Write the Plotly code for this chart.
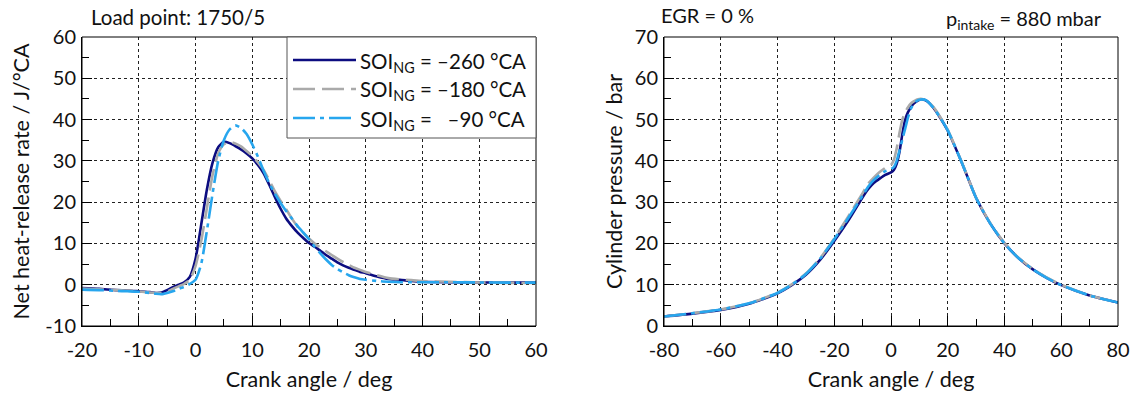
import plotly.graph_objects as go

# ---------------- data ----------------
cad_hrr = [-20, -17, -14, -12, -10, -8, -7, -6, -5, -4, -3, -2, -1, 0, 1, 2, 3, 4, 5, 6, 7, 8, 9, 10,
           11, 12, 13, 14, 15, 16, 17, 18, 19, 20, 21, 22, 23, 24, 25, 26, 27, 28, 29, 30,
           32, 34, 36, 38, 40, 45, 50, 55, 60]
hrr_260 = [-0.8, -1.0, -1.3, -1.4, -1.6, -1.8, -2.0, -1.9, -1.3, -0.6, 0.0, 0.6, 1.9, 6.2, 14.5, 23.0, 29.5, 33.3, 34.6, 34.3, 33.6, 32.8, 31.8, 30.6,
           29.0, 27.0, 24.2, 21.2, 18.4, 16.0, 14.2, 12.6, 11.3, 10.1, 9.2, 8.2, 7.2, 6.3, 5.4, 4.7, 4.1, 3.6, 3.1, 2.8,
           2.0, 1.4, 1.2, 0.9, 0.7, 0.6, 0.55, 0.5, 0.5]
hrr_180 = [-0.9, -1.1, -1.3, -1.4, -1.6, -1.9, -2.0, -2.0, -1.7, -1.0, -0.4, 0.2, 1.2, 4.5, 10.5, 18.5, 26.5, 31.8, 34.0, 34.6, 34.2, 33.5, 32.4, 31.2,
           29.6, 27.8, 25.3, 22.6, 20.3, 18.2, 16.0, 14.0, 12.6, 11.2, 10.0, 9.0, 8.1, 7.2, 6.3, 5.5, 4.8, 4.1, 3.6, 3.1,
           2.3, 1.6, 1.3, 1.1, 0.9, 0.7, 0.55, 0.45, 0.4]
hrr_90 = [-1.2, -1.3, -1.5, -1.6, -1.7, -2.0, -2.2, -2.3, -2.0, -1.6, -1.0, -0.5, 0.2, 1.2, 5.0, 13.0, 22.0, 30.0, 35.0, 37.6, 38.6, 38.0, 36.5, 34.0,
          31.0, 27.6, 24.6, 22.0, 19.8, 17.8, 16.0, 14.2, 12.6, 11.0, 9.2, 7.6, 6.1, 4.8, 3.8, 3.0, 2.3, 1.8, 1.4, 1.2,
          0.9, 0.7, 0.6, 0.6, 0.6, 0.6, 0.55, 0.5, 0.5]

cad_p = [-80, -70, -60, -50, -40, -35, -30, -25, -20, -15, -10, -8, -6, -4, -2, 0, 1, 2, 3, 4, 5, 6, 7, 8, 9, 10,
         11, 12, 13, 15, 17, 20, 25, 30, 35, 40, 45, 50, 55, 60, 70, 80]
p_260 = [2.3, 3.0, 3.9, 5.4, 7.9, 9.9, 12.4, 16.0, 20.6, 25.6, 31.2, 33.2, 34.7, 35.7, 36.6, 37.2, 37.8, 39.3, 42.2, 46.5, 50.0, 51.8, 53.0, 53.9, 54.4, 54.8,
         54.9, 54.7, 54.3, 52.8, 50.8, 47.3, 39.5, 31.0, 24.8, 20.0, 16.4, 13.7, 11.6, 9.9, 7.4, 5.7]
p_180 = [2.3, 3.1, 4.0, 5.5, 8.1, 10.1, 12.7, 16.4, 21.2, 26.6, 32.2, 34.5, 36.0, 37.3, 38.3, 39.0, 40.2, 43.0, 46.8, 50.0, 51.8, 53.0, 53.9, 54.4, 54.8, 55.0,
         55.0, 54.8, 54.4, 53.0, 51.0, 47.5, 39.6, 31.1, 24.9, 20.1, 16.5, 13.8, 11.7, 10.0, 7.4, 5.7]
p_90 = [2.3, 3.1, 4.0, 5.5, 8.0, 10.0, 12.6, 16.3, 21.0, 26.2, 31.6, 33.8, 35.4, 36.6, 37.5, 38.0, 38.5, 40.0, 42.5, 45.2, 47.8, 50.5, 52.6, 53.8, 54.5, 54.8,
        54.9, 54.8, 54.3, 52.8, 50.8, 47.4, 39.5, 31.0, 24.8, 20.0, 16.4, 13.7, 11.6, 9.9, 7.4, 5.7]

series_labels = ["SOI<sub>NG</sub> = \u2013260 \u00b0CA",
                 "SOI<sub>NG</sub> = \u2013180 \u00b0CA",
                 "SOI<sub>NG</sub> = \u00a0\u00a0\u201390 \u00b0CA"]

# tick labels (hyphen minus as in the reference)
x1_ticks = [-20, -10, 0, 10, 20, 30, 40, 50, 60]
x1_labels = ["-20", "-10", "0", "10", "20", "30", "40", "50", "60"]
y1_ticks = [-10, 0, 10, 20, 30, 40, 50, 60]
y1_labels = ["-10", "0", "10", "20", "30", "40", "50", "60"]
x2_ticks = [-80, -60, -40, -20, 0, 20, 40, 60, 80]
x2_labels = ["-80", "-60", "-40", "-20", "0", "20", "40", "60", "80"]
y2_ticks = [0, 10, 20, 30, 40, 50, 60, 70]
y2_labels = ["0", "10", "20", "30", "40", "50", "60", "70"]

# ---------------- styles ----------------
W, H = 1137, 401
FONT = "Lato"
TXT = "#111111"
NAVY = "#0c0c80"
GRAY = "#aaaaaa"
BLUE = "#27a6ee"
TICK_SIZE = 20
TITLE_SIZE = 21.5
styles = [dict(color=NAVY, width=2.6, dash="solid"),
          dict(color=GRAY, width=2.6, dash="22px,7px"),
          dict(color=BLUE, width=2.6, dash="22px,5px,4px,5px")]


def px(x):
    return x / W


def py(y):
    return 1 - y / H


fig = go.Figure()
for ys, st, name in zip([hrr_260, hrr_180, hrr_90], styles, series_labels):
    fig.add_trace(go.Scatter(x=cad_hrr, y=ys, mode="lines", line=dict(shape="spline", smoothing=0.6, **st),
                             name=name, showlegend=False, xaxis="x", yaxis="y"))
for ys, st, name in zip([p_260, p_180, p_90], styles, series_labels):
    fig.add_trace(go.Scatter(x=cad_p, y=ys, mode="lines", line=dict(shape="spline", smoothing=0.6, **st),
                             name=name, showlegend=False, xaxis="x2", yaxis="y2"))

ydom = [py(326), py(37)]
common = dict(showline=True, linecolor="#000", linewidth=1, ticks="inside", ticklen=10, tickcolor="#000",
              showgrid=True, gridcolor="#222", gridwidth=1, griddash="3px,3px", zeroline=False,
              tickfont=dict(family=FONT, size=TICK_SIZE, color=TXT), automargin=False, tickmode="array")


def minor(d):
    return dict(dtick=d, ticks="inside", ticklen=7, tickcolor="#000", showgrid=False)


fig.update_layout(
    width=W, height=H, margin=dict(l=0, r=0, t=0, b=0),
    paper_bgcolor="white", plot_bgcolor="white",
    font=dict(family=FONT, color=TXT, size=18),
    xaxis=dict(domain=[px(82), px(536)], range=[-20, 60], tickvals=x1_ticks, ticktext=x1_labels, anchor="y",
               minor=minor(5), ticklabelstandoff=6,
               title=dict(text="Crank angle / deg", font=dict(family=FONT, size=TITLE_SIZE, color=TXT), standoff=11),
               **common),
    yaxis=dict(domain=ydom, range=[-10, 60], tickvals=y1_ticks, ticktext=y1_labels, anchor="x",
               minor=minor(5), ticklabelstandoff=1,
               title=dict(text="Net heat-release rate / J/\u00b0CA", font=dict(family=FONT, size=TITLE_SIZE, color=TXT), standoff=9),
               **common),
    xaxis2=dict(domain=[px(664), px(1118)], range=[-80, 80], tickvals=x2_ticks, ticktext=x2_labels, anchor="y2",
                minor=minor(10), ticklabelstandoff=6,
                title=dict(text="Crank angle / deg", font=dict(family=FONT, size=TITLE_SIZE, color=TXT), standoff=11),
                **common),
    yaxis2=dict(domain=ydom, range=[0, 70], tickvals=y2_ticks, ticktext=y2_labels, anchor="x2",
                minor=minor(5), ticklabelstandoff=1,
                title=dict(text="Cylinder pressure / bar", font=dict(family=FONT, size=TITLE_SIZE, color=TXT), standoff=6),
                **common),
)

# plot frames (top / right borders)
for xr, yr in [("x domain", "y domain"), ("x2 domain", "y2 domain")]:
    fig.add_shape(type="rect", xref=xr, yref=yr, x0=0, x1=1, y0=0, y1=1,
                  line=dict(color="#000", width=1), fillcolor="rgba(0,0,0,0)", layer="above")

# manual legend
fig.add_shape(type="rect", xref="paper", yref="paper", x0=px(287), x1=px(536), y0=py(138), y1=py(37),
              line=dict(color="#555", width=1), fillcolor="white", layer="above")
for i, (st, name) in enumerate(zip(styles, series_labels)):
    yy = 60 + 29 * i
    fig.add_shape(type="line", xref="paper", yref="paper", x0=px(293), x1=px(356), y0=py(yy), y1=py(yy),
                  line=dict(color=st["color"], width=st["width"], dash=st["dash"]), layer="above")
    fig.add_annotation(xref="paper", yref="paper", x=px(358), y=py(yy + 2), xanchor="left", yanchor="middle",
                       text=name, showarrow=False, font=dict(family=FONT, size=20.5, color=TXT))

# header annotations
fig.add_annotation(xref="paper", yref="paper", x=px(89), y=py(17), xanchor="left", yanchor="middle",
                   text="Load point: 1750/5", showarrow=False, font=dict(family=FONT, size=20.5, color=TXT))
fig.add_annotation(xref="paper", yref="paper", x=px(659), y=py(15), xanchor="left", yanchor="middle",
                   text="EGR = 0 %", showarrow=False, font=dict(family=FONT, size=20, color=TXT))
fig.add_annotation(xref="paper", yref="paper", x=px(1104), y=py(19), xanchor="right", yanchor="middle",
                   text="p<sub>intake</sub> = 880 mbar", showarrow=False, font=dict(family=FONT, size=20, color=TXT))

fig.write_html("out.html", config={"displayModeBar": False},
               post_script="document.body.style.margin='0px';")
